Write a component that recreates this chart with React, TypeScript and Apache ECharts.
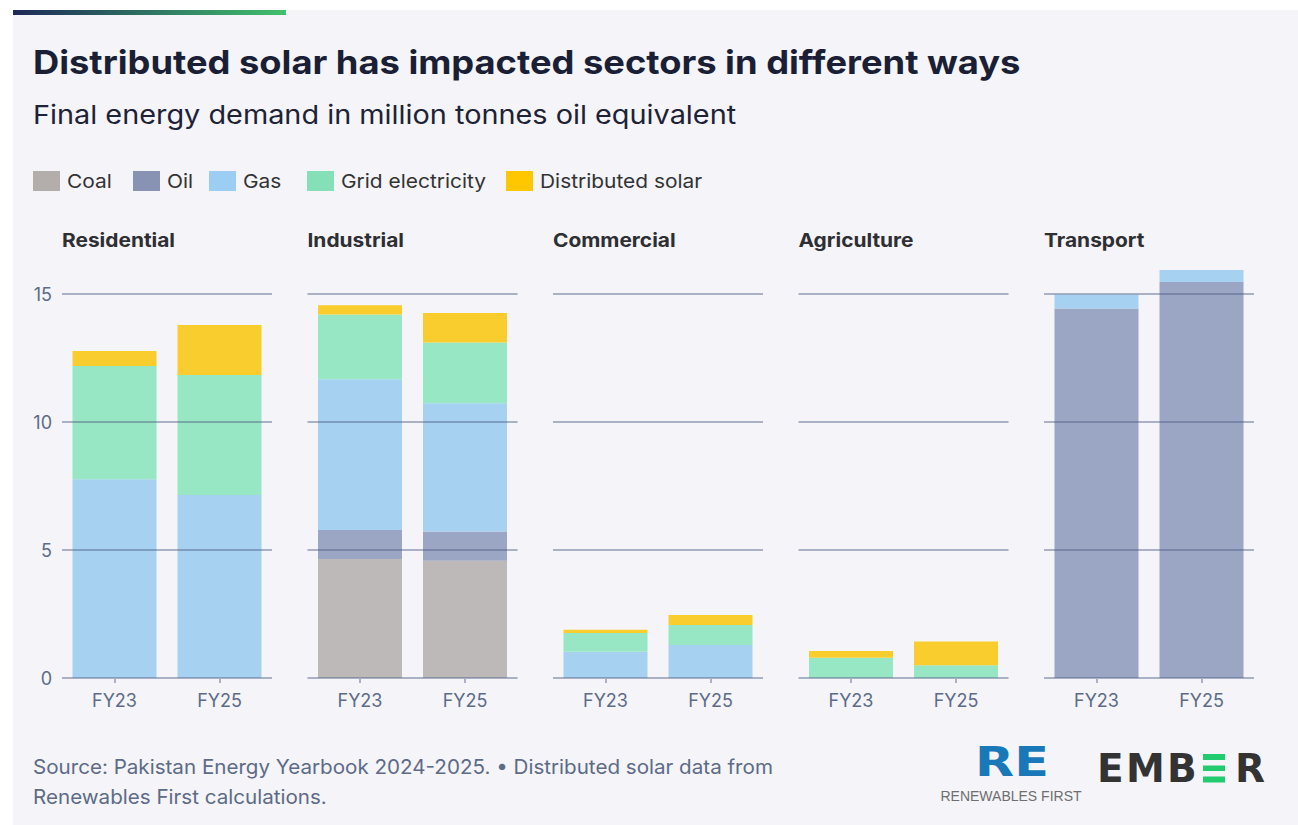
import React, { useEffect, useRef } from "react";
import * as echarts from "echarts";

const sectors = ["Residential", "Industrial", "Commercial", "Agriculture", "Transport"];
const years = ["FY23", "FY25"];
const fuelNames = ["Coal", "Oil", "Gas", "Grid electricity", "Distributed solar"];

// values per sector: [FY23, FY25]
const coal = [[0, 0], [4.65, 4.58], [0, 0], [0, 0], [0, 0]];
const oil = [[0, 0], [1.13, 1.14], [0, 0], [0, 0], [14.43, 15.47]];
const gas = [[7.76, 7.15], [5.89, 5.01], [1.03, 1.29], [0, 0], [0.55, 0.47]];
const gridElec = [[4.43, 4.69], [2.53, 2.38], [0.73, 0.78], [0.79, 0.5], [0, 0]];
const solar = [[0.58, 1.95], [0.36, 1.15], [0.12, 0.39], [0.26, 0.93], [0, 0]];
const yTicks = [0, 5, 10, 15];

const barColors = ["#bcb9b8", "#9ba5c4", "#a6d1f0", "#97e7c4", "#f9cd2e"];
const legendColors = ["#b3aeab", "#8893b4", "#9ccef3", "#85e0b8", "#ffc700"];

const FONT = "Inter, 'Noto Sans', sans-serif";
const AXIS_COLOR = "#5d6b87";

function txt(
  text: string,
  x: number,
  y: number,
  size: number,
  fill: string,
  opts: { weight?: number; scaleX?: number; align?: string; family?: string } = {}
) {
  return {
    type: "text",
    x,
    y,
    scaleX: opts.scaleX ?? 1,
    style: {
      text,
      x: 0,
      y: 0,
      align: opts.align ?? "left",
      verticalAlign: "middle",
      fontSize: size,
      fontWeight: opts.weight ?? 400,
      fontFamily: opts.family ?? FONT,
      fill,
    },
  };
}

export default function App() {
  const ref = useRef<HTMLDivElement>(null);

  useEffect(() => {
    if (!ref.current) return;
    const chart = echarts.init(ref.current, undefined, { renderer: "svg" });
    const allSeries = [coal, oil, gas, gridElec, solar];
    const yMax = 16.5;
    const plotTop = 678 - yMax * 25.6;

    const grids = sectors.map((_, i) => ({
      left: 62 + i * 245.5,
      top: plotTop,
      width: 210,
      height: yMax * 25.6,
    }));

    const xAxes = sectors.map((_, i) => ({
      type: "category",
      gridIndex: i,
      data: years,
      z: 5,
      axisLine: { show: false },
      axisTick: {
        show: true,
        alignWithLabel: true,
        length: 5,
        lineStyle: { color: "#aab1c3", width: 2 },
      },
      axisLabel: { fontSize: 18, color: AXIS_COLOR, margin: 13, fontFamily: FONT },
    }));

    const yAxes = sectors.map((_, i) => ({
      type: "value",
      gridIndex: i,
      min: yTicks[0],
      max: yMax,
      interval: yTicks[1] - yTicks[0],
      z: 5,
      axisLine: { show: false },
      axisTick: { show: false },
      splitLine: {
        show: true,
        showMaxLine: false,
        lineStyle: { color: "rgba(80,95,130,0.45)", width: 2 },
      },
      axisLabel: {
        show: i === 0,
        showMaxLabel: false,
        fontSize: 18,
        color: AXIS_COLOR,
        margin: 10,
        fontFamily: FONT,
      },
    }));

    const series: any[] = [];
    sectors.forEach((_, i) => {
      fuelNames.forEach((name, k) => {
        series.push({
          type: "bar",
          name,
          stack: "s" + i,
          xAxisIndex: i,
          yAxisIndex: i,
          barCategoryGap: "20%",
          data: allSeries[k][i],
          itemStyle: { color: barColors[k] },
          z: 2,
        });
      });
    });

    // legend (drawn as graphic for exact placement)
    const legendX = [33, 133, 209, 307, 506];
    const legendEls: any[] = [];
    fuelNames.forEach((name, k) => {
      legendEls.push({
        type: "rect",
        shape: { x: legendX[k], y: 171, width: 27, height: 20 },
        style: { fill: legendColors[k] },
      });
      legendEls.push(txt(name, legendX[k] + 34, 181, 19, "#333333", { scaleX: 1.1 }));
    });

    const sectorTitles = sectors.map((s, i) =>
      txt(s, 62 + i * 245.5, 240, 19, "#2e2e33", { weight: 700, scaleX: 1.1 })
    );

    const emberLetters = [
      { t: "E", x: 1097 },
      { t: "M", x: 1126 },
      { t: "B", x: 1167 },
      { t: "R", x: 1235 },
    ];

    chart.setOption({
      animation: false,
      backgroundColor: "#ffffff",
      grid: grids,
      xAxis: xAxes,
      yAxis: yAxes,
      series,
      graphic: [
        {
          type: "rect",
          z: -10,
          shape: { x: 13, y: 10, width: 1285, height: 815 },
          style: { fill: "#f4f4f9" },
          silent: true,
        },
        {
          type: "rect",
          z: -5,
          shape: { x: 13, y: 10, width: 273, height: 5 },
          style: {
            fill: new echarts.graphic.LinearGradient(0, 0, 1, 0, [
              { offset: 0, color: "#1d2858" },
              { offset: 1, color: "#41c06d" },
            ]),
          },
        },
        txt("Distributed solar has impacted sectors in different ways", 33, 62, 33, "#1a1f36", {
          weight: 700,
          scaleX: 1.1,
        }),
        txt("Final energy demand in million tonnes oil equivalent", 33, 115, 26, "#1e2236", {
          scaleX: 1.11,
        }),
        ...legendEls,
        ...sectorTitles,
        txt(
          "Source: Pakistan Energy Yearbook 2024-2025. • Distributed solar data from",
          33,
          767,
          20,
          AXIS_COLOR,
          { scaleX: 1.03 }
        ),
        txt("Renewables First calculations.", 33, 797, 20, AXIS_COLOR, { scaleX: 1.03 }),
        // Renewables First logo
        txt("RE", 975, 762, 41, "#1878b8", {
          weight: 700,
          scaleX: 1.24,
          family: "'DejaVu Sans', sans-serif",
        }),
        txt("RENEWABLES FIRST", 1011, 796, 14, "#6e6e6e", {
          align: "center",
          family: "'Liberation Sans', Arial, sans-serif",
        }),
        // Ember logo
        ...emberLetters.map((l) =>
          txt(l.t, l.x, 768, 39, "#333333", { weight: 700, family: "'DejaVu Sans', sans-serif" })
        ),
        { type: "rect", shape: { x: 1203, y: 754, width: 22, height: 6 }, style: { fill: "#20cc6e" } },
        { type: "rect", shape: { x: 1203, y: 765.5, width: 22, height: 5.5 }, style: { fill: "#20cc6e" } },
        { type: "rect", shape: { x: 1203, y: 776.5, width: 22, height: 6 }, style: { fill: "#20cc6e" } },
      ],
    });

    return () => chart.dispose();
  }, []);

  return (
    <div
      ref={ref}
      style={{ position: "fixed", left: 0, top: 0, width: 1298, height: 825 }}
    />
  );
}
